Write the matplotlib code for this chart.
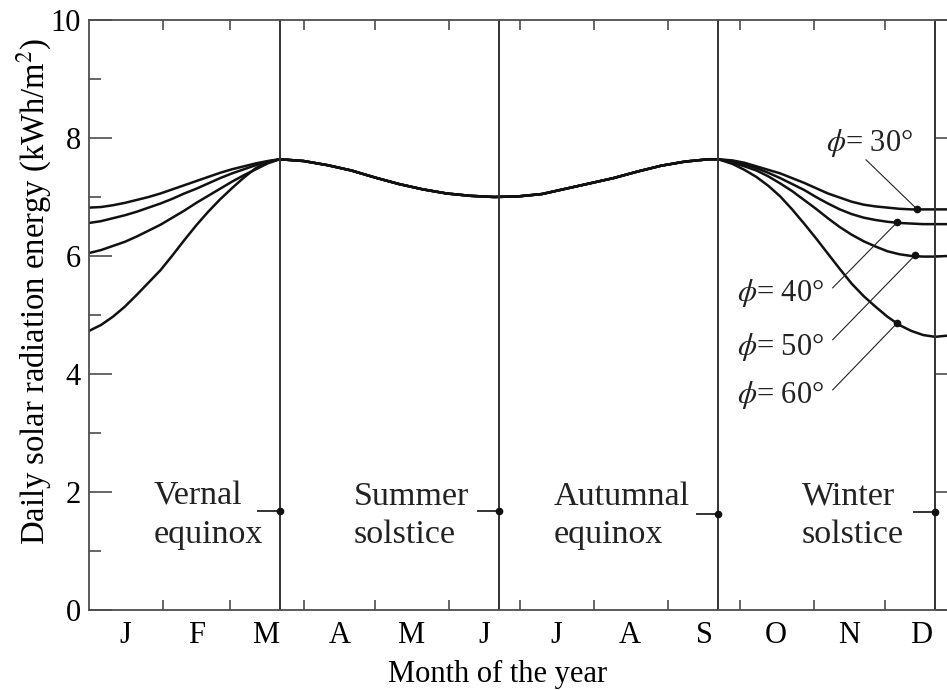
import numpy as np
import matplotlib
matplotlib.use("Agg")
import matplotlib.pyplot as plt
from matplotlib.ticker import FixedLocator, MultipleLocator

# day of year (0 = 1 Jan) and daily energy, kWh/m2
days = list(range(0, 81, 5)) + list(range(90, 261, 10)) + [264] + list(range(270, 366, 5))

# 1 Apr .. mid Sep, same for every latitude
common = [7.61, 7.54, 7.45, 7.33, 7.22, 7.13, 7.06, 7.02, 7.00, 7.01, 7.05, 7.14, 7.23, 7.32, 7.43, 7.53, 7.60, 7.64]

lat30 = [6.82, 6.83, 6.86, 6.90, 6.95, 7.00, 7.06, 7.13, 7.20, 7.27, 7.34, 7.41, 7.47, 7.52, 7.57, 7.61, 7.64] + common + \
        [7.64, 7.62, 7.58, 7.52, 7.46, 7.40, 7.32, 7.24, 7.15, 7.06, 6.99, 6.92, 6.87, 6.84, 6.82, 6.80, 6.79, 6.79, 6.79, 6.79, 6.80]
lat40 = [6.56, 6.59, 6.64, 6.69, 6.75, 6.82, 6.89, 6.97, 7.06, 7.14, 7.23, 7.32, 7.40, 7.47, 7.54, 7.60, 7.64] + common + \
        [7.64, 7.60, 7.55, 7.49, 7.41, 7.32, 7.22, 7.12, 7.00, 6.89, 6.79, 6.71, 6.65, 6.61, 6.58, 6.56, 6.55, 6.54, 6.54, 6.54, 6.55]
lat50 = [6.05, 6.10, 6.17, 6.24, 6.33, 6.43, 6.53, 6.65, 6.77, 6.90, 7.02, 7.14, 7.26, 7.37, 7.47, 7.57, 7.64] + common + \
        [7.64, 7.58, 7.52, 7.45, 7.35, 7.23, 7.10, 6.95, 6.80, 6.64, 6.49, 6.36, 6.25, 6.16, 6.08, 6.03, 6.00, 5.99, 5.99, 6.00, 6.03]
lat60 = [4.73, 4.83, 4.97, 5.14, 5.34, 5.55, 5.76, 6.01, 6.27, 6.52, 6.75, 6.96, 7.15, 7.33, 7.49, 7.59, 7.64] + common + \
        [7.64, 7.56, 7.46, 7.34, 7.19, 7.01, 6.79, 6.55, 6.30, 6.04, 5.78, 5.53, 5.32, 5.14, 4.97, 4.83, 4.73, 4.66, 4.63, 4.65, 4.71]

month_labels = ["J", "F", "M", "A", "M", "J", "J", "A", "S", "O", "N", "D"]
month_mid = [15, 45, 74, 105, 135, 166, 196, 227, 258, 288, 319, 349]
month_start = [31, 59, 90, 120, 151, 181, 212, 243, 273, 304, 334]

# equinoxes / solstices
event_days = [80, 172, 264, 355]
event_marks = [1.68, 1.67, 1.63, 1.66]
event_names = ["Vernal\nequinox", "Summer\nsolstice", "Autumnal\nequinox", "Winter\nsolstice"]
event_text_x = [27, 111, 195, 299]

# latitude labels: text position, leader start, dot on curve
phi_labels = ["30°", "40°", "50°", "60°"]
phi_text = [(309, 7.92), (272, 5.37), (272, 4.46), (272, 3.64)]
phi_from = [(326, 7.63), (312, 5.46), (312, 4.58), (312, 3.73)]
phi_dot = [(347.5, 6.79), (339, 6.57), (346.5, 6.01), (339, 4.86)]

plt.rcParams["font.family"] = ["Liberation Serif", "DejaVu Serif"]
plt.rcParams["mathtext.fontset"] = "stix"

fig = plt.figure(figsize=(9.47, 6.9), dpi=100)
ax = fig.add_axes([89 / 947, 80 / 690, 870 / 947, 590 / 690])

for series in [lat30, lat40, lat50, lat60]:
    ax.plot(days, series, color="#111111", lw=1.8, solid_joinstyle="round")

for d, m, name, tx in zip(event_days, event_marks, event_names, event_text_x):
    ax.axvline(d, color="#333333", lw=1.4)
    ax.plot([d - 9, d], [m, m], color="#333333", lw=1.4)
    ax.plot(d, m, "o", color="#111111", ms=4.5)
    ax.text(tx, 1.6, name, fontsize=24.5, ha="left", va="center", linespacing=1.32, color="#222222")

for lab, (tx, ty), (fx, fy), (dx, dy) in zip(phi_labels, phi_text, phi_from, phi_dot):
    ax.plot([fx, dx], [fy, dy], color="#222222", lw=0.8)
    ax.plot(dx, dy, "o", color="#111111", ms=4.5)
    ax.text(tx, ty, r"$\phi$= " + lab, fontsize=22, ha="left", va="center", color="#222222")

ax.set_xlim(0, 365)
ax.set_ylim(0, 10)

ax.xaxis.set_major_locator(FixedLocator(month_mid))
ax.set_xticklabels(month_labels)
ax.xaxis.set_minor_locator(FixedLocator(month_start))
ax.yaxis.set_major_locator(MultipleLocator(2))
ax.yaxis.set_minor_locator(MultipleLocator(1))

ax.tick_params(axis="x", which="major", length=0, pad=8, labelsize=22)
ax.tick_params(axis="x", which="minor", direction="in", length=7, width=1.2,
               color="#4d4d4d", top=True, bottom=True)
ax.tick_params(axis="y", which="major", direction="in", length=16.5, width=1.2,
               color="#4d4d4d", left=True, right=True, pad=6, labelsize=22)
ax.tick_params(axis="y", which="minor", direction="in", length=8.5, width=1.2,
               color="#4d4d4d", left=True, right=True)

for sp in ax.spines.values():
    sp.set_color("#4d4d4d")
    sp.set_linewidth(1.3)

ax.set_xlabel("Month of the year", fontsize=22)
ax.set_ylabel("Daily solar radiation energy (kWh/m$^2$)", fontsize=23.5)
ax.xaxis.set_label_coords(0.47, -0.085)
ax.yaxis.set_label_coords(-0.04, 0.54)

fig.savefig("out.png", dpi=100)
